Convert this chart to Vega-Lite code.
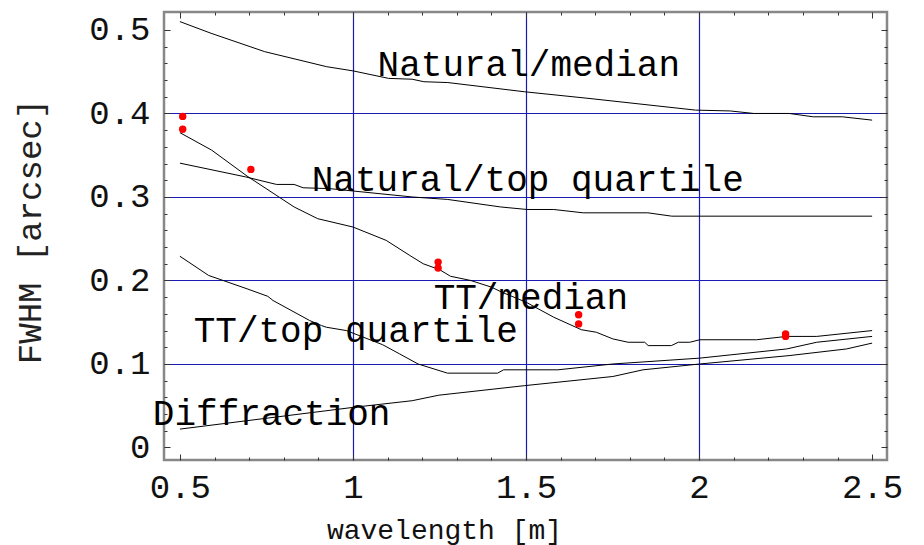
{
  "$schema": "https://vega.github.io/schema/vega-lite/v6.json",
  "width": 723,
  "height": 448,
  "autosize": {"type": "none"},
  "padding": {"left": 164, "top": 12, "right": 37, "bottom": 85},
  "background": "white",
  "config": {
    "view": {"stroke": "#888888", "strokeWidth": 2.5},
    "font": "Liberation Mono",
    "axis": {"labelFont": "Liberation Mono", "titleFont": "Liberation Mono", "domain": false, "grid": false, "labelOverlap": false, "labelFlush": false, "tickColor": "#333333", "tickWidth": 1}
  },
  "datasets": {
    "curves": [
      {"series": "Natural/median", "wl": 0.5, "fwhm": 0.510},
      {"series": "Natural/median", "wl": 0.59, "fwhm": 0.496},
      {"series": "Natural/median", "wl": 0.745, "fwhm": 0.474},
      {"series": "Natural/median", "wl": 0.924, "fwhm": 0.456},
      {"series": "Natural/median", "wl": 1.0, "fwhm": 0.451},
      {"series": "Natural/median", "wl": 1.103, "fwhm": 0.442},
      {"series": "Natural/median", "wl": 1.171, "fwhm": 0.441},
      {"series": "Natural/median", "wl": 1.205, "fwhm": 0.438},
      {"series": "Natural/median", "wl": 1.274, "fwhm": 0.437},
      {"series": "Natural/median", "wl": 1.495, "fwhm": 0.426},
      {"series": "Natural/median", "wl": 1.682, "fwhm": 0.418},
      {"series": "Natural/median", "wl": 1.99, "fwhm": 0.404},
      {"series": "Natural/median", "wl": 2.09, "fwhm": 0.403},
      {"series": "Natural/median", "wl": 2.158, "fwhm": 0.400},
      {"series": "Natural/median", "wl": 2.26, "fwhm": 0.400},
      {"series": "Natural/median", "wl": 2.33, "fwhm": 0.396},
      {"series": "Natural/median", "wl": 2.414, "fwhm": 0.396},
      {"series": "Natural/median", "wl": 2.5, "fwhm": 0.392},
      {"series": "Natural/top quartile", "wl": 0.5, "fwhm": 0.3405},
      {"series": "Natural/top quartile", "wl": 0.69, "fwhm": 0.324},
      {"series": "Natural/top quartile", "wl": 0.779, "fwhm": 0.315},
      {"series": "Natural/top quartile", "wl": 0.83, "fwhm": 0.315},
      {"series": "Natural/top quartile", "wl": 0.856, "fwhm": 0.311},
      {"series": "Natural/top quartile", "wl": 0.932, "fwhm": 0.310},
      {"series": "Natural/top quartile", "wl": 1.171, "fwhm": 0.300},
      {"series": "Natural/top quartile", "wl": 1.274, "fwhm": 0.297},
      {"series": "Natural/top quartile", "wl": 1.427, "fwhm": 0.288},
      {"series": "Natural/top quartile", "wl": 1.503, "fwhm": 0.285},
      {"series": "Natural/top quartile", "wl": 1.58, "fwhm": 0.285},
      {"series": "Natural/top quartile", "wl": 1.665, "fwhm": 0.281},
      {"series": "Natural/top quartile", "wl": 1.852, "fwhm": 0.281},
      {"series": "Natural/top quartile", "wl": 1.921, "fwhm": 0.277},
      {"series": "Natural/top quartile", "wl": 2.5, "fwhm": 0.277},
      {"series": "TT/median", "wl": 0.5, "fwhm": 0.377},
      {"series": "TT/median", "wl": 0.592, "fwhm": 0.356},
      {"series": "TT/median", "wl": 0.694, "fwhm": 0.325},
      {"series": "TT/median", "wl": 0.83, "fwhm": 0.288},
      {"series": "TT/median", "wl": 0.898, "fwhm": 0.274},
      {"series": "TT/median", "wl": 1.0, "fwhm": 0.264},
      {"series": "TT/median", "wl": 1.096, "fwhm": 0.248},
      {"series": "TT/median", "wl": 1.164, "fwhm": 0.230},
      {"series": "TT/median", "wl": 1.203, "fwhm": 0.220},
      {"series": "TT/median", "wl": 1.25, "fwhm": 0.213},
      {"series": "TT/median", "wl": 1.282, "fwhm": 0.205},
      {"series": "TT/median", "wl": 1.34, "fwhm": 0.200},
      {"series": "TT/median", "wl": 1.40, "fwhm": 0.192},
      {"series": "TT/median", "wl": 1.43, "fwhm": 0.186},
      {"series": "TT/median", "wl": 1.5, "fwhm": 0.174},
      {"series": "TT/median", "wl": 1.58, "fwhm": 0.156},
      {"series": "TT/median", "wl": 1.66, "fwhm": 0.141},
      {"series": "TT/median", "wl": 1.703, "fwhm": 0.138},
      {"series": "TT/median", "wl": 1.751, "fwhm": 0.130},
      {"series": "TT/median", "wl": 1.795, "fwhm": 0.126},
      {"series": "TT/median", "wl": 1.843, "fwhm": 0.126},
      {"series": "TT/median", "wl": 1.853, "fwhm": 0.122},
      {"series": "TT/median", "wl": 1.92, "fwhm": 0.122},
      {"series": "TT/median", "wl": 1.94, "fwhm": 0.126},
      {"series": "TT/median", "wl": 1.973, "fwhm": 0.126},
      {"series": "TT/median", "wl": 2.002, "fwhm": 0.129},
      {"series": "TT/median", "wl": 2.166, "fwhm": 0.129},
      {"series": "TT/median", "wl": 2.253, "fwhm": 0.133},
      {"series": "TT/median", "wl": 2.34, "fwhm": 0.133},
      {"series": "TT/median", "wl": 2.5, "fwhm": 0.140},
      {"series": "TT/top quartile", "wl": 0.5, "fwhm": 0.229},
      {"series": "TT/top quartile", "wl": 0.583, "fwhm": 0.206},
      {"series": "TT/top quartile", "wl": 0.694, "fwhm": 0.190},
      {"series": "TT/top quartile", "wl": 0.754, "fwhm": 0.181},
      {"series": "TT/top quartile", "wl": 0.769, "fwhm": 0.176},
      {"series": "TT/top quartile", "wl": 0.875, "fwhm": 0.152},
      {"series": "TT/top quartile", "wl": 0.909, "fwhm": 0.146},
      {"series": "TT/top quartile", "wl": 0.923, "fwhm": 0.144},
      {"series": "TT/top quartile", "wl": 0.981, "fwhm": 0.140},
      {"series": "TT/top quartile", "wl": 1.086, "fwhm": 0.123},
      {"series": "TT/top quartile", "wl": 1.135, "fwhm": 0.112},
      {"series": "TT/top quartile", "wl": 1.188, "fwhm": 0.100},
      {"series": "TT/top quartile", "wl": 1.273, "fwhm": 0.089},
      {"series": "TT/top quartile", "wl": 1.418, "fwhm": 0.089},
      {"series": "TT/top quartile", "wl": 1.435, "fwhm": 0.093},
      {"series": "TT/top quartile", "wl": 1.592, "fwhm": 0.093},
      {"series": "TT/top quartile", "wl": 1.751, "fwhm": 0.100},
      {"series": "TT/top quartile", "wl": 2.002, "fwhm": 0.107},
      {"series": "TT/top quartile", "wl": 2.253, "fwhm": 0.118},
      {"series": "TT/top quartile", "wl": 2.34, "fwhm": 0.126},
      {"series": "TT/top quartile", "wl": 2.5, "fwhm": 0.133},
      {"series": "Diffraction", "wl": 0.5, "fwhm": 0.022},
      {"series": "Diffraction", "wl": 1.0, "fwhm": 0.048},
      {"series": "Diffraction", "wl": 1.171, "fwhm": 0.056},
      {"series": "Diffraction", "wl": 1.248, "fwhm": 0.0626},
      {"series": "Diffraction", "wl": 1.495, "fwhm": 0.074},
      {"series": "Diffraction", "wl": 1.751, "fwhm": 0.085},
      {"series": "Diffraction", "wl": 1.838, "fwhm": 0.093},
      {"series": "Diffraction", "wl": 2.002, "fwhm": 0.100},
      {"series": "Diffraction", "wl": 2.26, "fwhm": 0.110},
      {"series": "Diffraction", "wl": 2.426, "fwhm": 0.118},
      {"series": "Diffraction", "wl": 2.5, "fwhm": 0.125}
    ],
    "measured": [
      {"wl": 0.508, "fwhm": 0.3965},
      {"wl": 0.508, "fwhm": 0.381},
      {"wl": 0.705, "fwhm": 0.333},
      {"wl": 1.246, "fwhm": 0.222},
      {"wl": 1.246, "fwhm": 0.215},
      {"wl": 1.652, "fwhm": 0.159},
      {"wl": 1.652, "fwhm": 0.148},
      {"wl": 2.25, "fwhm": 0.136},
      {"wl": 2.25, "fwhm": 0.133}
    ],
    "labels": [
      {"label": "Natural/median", "wl": 1.508, "fwhm": 0.458},
      {"label": "Natural/top quartile", "wl": 1.505, "fwhm": 0.320},
      {"label": "TT/median", "wl": 1.514, "fwhm": 0.1795},
      {"label": "TT/top quartile", "wl": 1.008, "fwhm": 0.140},
      {"label": "Diffraction", "wl": 0.765, "fwhm": 0.040}
    ]
  },
  "resolve": {"axis": {"x": "independent", "y": "independent"}},
  "layer": [
    {
      "data": {"name": "curves"},
      "mark": {"type": "point", "opacity": 0},
      "encoding": {
        "x": {"field": "wl", "type": "quantitative", "scale": {"domain": [0.454, 2.543], "nice": false, "zero": false},
          "axis": {"orient": "bottom", "values": [1, 1.5, 2], "grid": true, "gridColor": "#1a1ab4", "gridWidth": 1.2, "gridOpacity": 1, "ticks": false, "labels": false, "title": null}},
        "y": {"field": "fwhm", "type": "quantitative", "scale": {"domain": [-0.015, 0.5215], "nice": false, "zero": false},
          "axis": {"orient": "left", "values": [0.1, 0.2, 0.3, 0.4], "grid": true, "gridColor": "#1a1ab4", "gridWidth": 1.2, "gridOpacity": 1, "ticks": false, "labels": false, "title": null}}
      }
    },
    {
      "data": {"name": "curves"},
      "mark": {"type": "line", "color": "#000000", "strokeWidth": 1},
      "encoding": {
        "x": {"field": "wl", "type": "quantitative",
          "axis": {"orient": "bottom", "values": [0.5, 1, 1.5, 2, 2.5], "format": "~g", "tickSize": -6, "labelFontSize": 34, "labelColor": "#111111", "labelPadding": 43, "labelBaseline": "alphabetic",
            "title": "wavelength [m]", "titleFontSize": 28, "titleFontWeight": "normal", "titleColor": "#111111", "titleX": 280, "titleY": 78, "titleAlign": "center", "titleBaseline": "alphabetic"}},
        "y": {"field": "fwhm", "type": "quantitative",
          "axis": {"orient": "left", "values": [0, 0.1, 0.2, 0.3, 0.4, 0.5], "format": "~g", "tickSize": -6, "labelFontSize": 34, "labelColor": "#111111", "labelPadding": 20, "labelBaseline": "middle",
            "title": "FWHM [arcsec]", "titleFontSize": 34, "titleFontWeight": "normal", "titleColor": "#222222", "titleX": -134, "titleY": 219, "titleAlign": "center", "titleBaseline": "middle"}},
        "detail": {"field": "series"}
      }
    },
    {
      "data": {"name": "measured"},
      "mark": {"type": "circle", "color": "#ff0000", "opacity": 1, "size": 55},
      "encoding": {
        "x": {"field": "wl", "type": "quantitative",
          "axis": {"orient": "bottom", "values": [0.6, 0.7, 0.8, 0.9, 1.1, 1.2, 1.3, 1.4, 1.6, 1.7, 1.8, 1.9, 2.1, 2.2, 2.3, 2.4], "tickSize": -3, "labels": false, "title": null}},
        "y": {"field": "fwhm", "type": "quantitative",
          "axis": {"orient": "left", "values": [0.02, 0.04, 0.06, 0.08, 0.12, 0.14, 0.16, 0.18, 0.22, 0.24, 0.26, 0.28, 0.32, 0.34, 0.36, 0.38, 0.42, 0.44, 0.46, 0.48], "tickSize": -3, "labels": false, "title": null}}
      }
    },
    {
      "data": {"name": "labels"},
      "mark": {"type": "text", "font": "Liberation Mono", "fontSize": 36, "color": "#000000", "align": "center", "baseline": "middle"},
      "encoding": {
        "x": {"field": "wl", "type": "quantitative",
          "axis": {"orient": "top", "values": [0.5, 1, 1.5, 2, 2.5], "tickSize": -6, "labels": false, "title": null}},
        "y": {"field": "fwhm", "type": "quantitative",
          "axis": {"orient": "right", "values": [0, 0.1, 0.2, 0.3, 0.4, 0.5], "tickSize": -6, "labels": false, "title": null}},
        "text": {"field": "label"}
      }
    },
    {
      "data": {"name": "measured"},
      "mark": {"type": "point", "opacity": 0},
      "encoding": {
        "x": {"field": "wl", "type": "quantitative",
          "axis": {"orient": "top", "values": [0.6, 0.7, 0.8, 0.9, 1.1, 1.2, 1.3, 1.4, 1.6, 1.7, 1.8, 1.9, 2.1, 2.2, 2.3, 2.4], "tickSize": -3, "labels": false, "title": null}},
        "y": {"field": "fwhm", "type": "quantitative",
          "axis": {"orient": "right", "values": [0.02, 0.04, 0.06, 0.08, 0.12, 0.14, 0.16, 0.18, 0.22, 0.24, 0.26, 0.28, 0.32, 0.34, 0.36, 0.38, 0.42, 0.44, 0.46, 0.48], "tickSize": -3, "labels": false, "title": null}}
      }
    }
  ]
}
